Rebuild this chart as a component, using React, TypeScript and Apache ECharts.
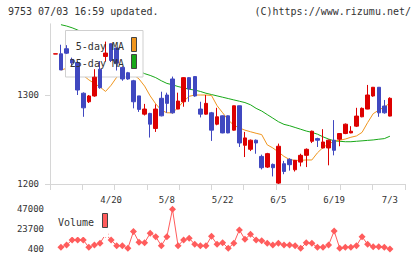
import React, { useEffect, useRef } from "react";
import * as echarts from "echarts";

const dates = [
  "4/6","4/7","4/8","4/9","4/10","4/13","4/14","4/15","4/16","4/17",
  "4/20","4/21","4/22","4/23","4/24","4/27","4/28","4/30","5/1","5/7",
  "5/8","5/11","5/12","5/13","5/14","5/15","5/18","5/19","5/20","5/21",
  "5/22","5/25","5/26","5/27","5/28","5/29","6/1","6/2","6/3","6/4",
  "6/5","6/8","6/9","6/10","6/11","6/12","6/15","6/16","6/17","6/18",
  "6/19","6/22","6/23","6/24","6/25","6/26","6/29","6/30","7/1","7/2",
  "7/3",
];

const opens = [
  1346, 1346.3, 1352, 1340, 1336.5, 1302, 1292.4, 1298.9, 1329, 1343.3,
  1357.6, 1352.8, 1331, 1325, 1316, 1299, 1278.5, 1279.3, 1262.4, 1296.3,
  1300, 1318, 1284.2, 1292.4, 1319.5, 1320.7, 1284.2, 1278.5, 1280, 1267.2,
  1276.6, 1276.6, 1260.5, 1287.9, 1243.5, 1239, 1249.2, 1231, 1219, 1222,
  1201, 1222.8, 1227.7, 1216, 1224.6, 1232.2, 1248, 1251, 1240.5, 1240.5,
  1249.2, 1250.3, 1256.7, 1257.4, 1265, 1275.5, 1284.2, 1298.9, 1308.7, 1287.6,
  1276.3,
];
const closes = [
  1346.3, 1328.2, 1347, 1336, 1305.6, 1285.6, 1298.9, 1320, 1308.2, 1347.1,
  1338.8, 1335.8, 1318, 1318, 1292.4, 1283.8, 1284.2, 1267.2, 1284.2, 1276.6,
  1290.6, 1280, 1293.2, 1319.5, 1306.8, 1298.9, 1278.5, 1290.6, 1260.5, 1275.5,
  1257.4, 1257.4, 1287.9, 1246.1, 1251.8, 1249.2, 1246.1, 1218.3, 1234.1, 1218.3,
  1242.4, 1214.1, 1221.7, 1226.6, 1232.2, 1239, 1259.3, 1249.2, 1247.2, 1249.2,
  1237.9, 1256.7, 1267.2, 1259.3, 1276.3, 1285, 1300, 1308.7, 1280, 1280,
  1296.3,
];
const lows = [
  1346, 1328, 1346, 1333, 1300, 1275.5, 1291, 1298, 1307, 1337.6,
  1337, 1327.5, 1316, 1317, 1285, 1281, 1277, 1252.2, 1258.5, 1276,
  1280, 1279, 1284, 1286.8, 1292.4, 1298, 1274.8, 1278, 1248.4, 1266,
  1257, 1257, 1260, 1241.6, 1230.3, 1237, 1234, 1216.4, 1218, 1208.5,
  1200, 1211, 1215, 1214, 1219.8, 1219, 1246, 1241.6, 1240, 1221,
  1232.2, 1242.4, 1256, 1257, 1264, 1275, 1284, 1298, 1275.5, 1279,
  1276,
];
const highs = [
  1346.3, 1356.5, 1356, 1342, 1338, 1303, 1300, 1329, 1338, 1360,
  1358, 1353, 1332, 1326, 1317, 1299, 1290, 1280, 1289.5, 1303.7,
  1302.6, 1320.7, 1302.6, 1320, 1320, 1321, 1292.4, 1300, 1281, 1285.6,
  1277, 1277, 1288, 1288, 1258.5, 1250, 1250, 1233, 1235, 1223,
  1245.4, 1226, 1229, 1227, 1234, 1240, 1260, 1252, 1261.6, 1250,
  1271.8, 1257, 1268, 1265, 1285.6, 1286, 1311.3, 1309, 1309, 1294.4,
  1297.4,
];

const ma5 = [
  null, 1328, 1330, 1331, 1328, 1322, 1317, 1313, 1309, 1304,
  1311, 1320, 1325, 1326, 1323, 1318, 1310, 1299, 1290, 1283,
  1280, 1280, 1286, 1293, 1298.5, 1300, 1300, 1300, 1299.5, 1288,
  1280, 1272, 1266, 1263, 1260.5, 1258.7, 1257, 1255.5, 1244, 1240.5,
  1236, 1231, 1227.5, 1226.5, 1226.6, 1227, 1227, 1235, 1241, 1245,
  1248, 1249.2, 1250.5, 1252.5, 1254, 1258, 1269, 1279, 1283, 1286.5,
  1291,
];
const ma25 = [
  null, 1379, 1377.5, 1375.5, 1373, 1370, 1367, 1363, 1359, 1355,
  1351, 1346, 1341, 1336, 1331, 1327, 1324, 1322, 1319.5, 1316,
  1313, 1311.5, 1309.5, 1308, 1306.5, 1305.5, 1304, 1302, 1300.5, 1299,
  1297.5, 1296, 1294.5, 1293, 1291.5, 1289, 1285, 1282, 1278, 1274,
  1270, 1267, 1265.5, 1263.5, 1261.5, 1259.5, 1258, 1256, 1253, 1250.5,
  1248.5, 1248, 1247.5, 1247.5, 1248, 1248.5, 1249, 1249.5, 1250.3, 1251,
  1253.7,
];

const volumes = [
  null, 2700, 5400, 11200, 11200, 11200, 2700, 5400, 7400, 18000,
  11200, 4600, 4600, 1600, 21000, 8600, 8100, 19000, 15100, 4600,
  15100, 47000, 4600, 11200, 13200, 6200, 4600, 4600, 15500, 6200,
  8100, 1600, 7400, 22900, 12000, 17900, 11200, 10400, 7400, 5400,
  7400, 5400, 5400, 4600, 1600, 8100, 7400, 2700, 2700, 5400,
  21700, 1600, 2700, 2700, 4600, 15100, 6200, 3400, 3400, 2700,
  800,
];

const priceTicks = [1200, 1300];
const volumeTicks = [400, 23700, 47000];

const FONT = "DejaVu Sans Mono";
const TXT = "#333";
const AXIS = "#d6d6d6";
const UP = "#dd0000";
const DOWN = "#4048c0";
const ORANGE = "#f0961e";
const GREEN = "#18a818";
const VOL = "#ff5c5c";

const plain = (v: number) => String(v);

export default function App() {
  const ref = useRef<HTMLDivElement>(null);
  useEffect(() => {
    if (!ref.current) return;
    const chart = echarts.init(ref.current, null, { renderer: "svg" });
    const plotLeft = 52.6;
    const plotWidth = 340.1;
    const candles = dates.map((_, i) => [opens[i], closes[i], lows[i], highs[i]]);
    chart.setOption({
      animation: false,
      backgroundColor: "#fff",
      textStyle: { fontFamily: FONT },
      grid: [
        { left: plotLeft, width: plotWidth, top: 23.8, height: 160.2 },
        { left: plotLeft, width: plotWidth, top: 209.3, height: 40 },
        { left: 50, width: 355, top: 23.8, height: 160.2 },
      ],
      xAxis: [
        {
          type: "category",
          gridIndex: 0,
          data: dates,
          boundaryGap: true,
          axisLine: { show: false },
          axisTick: { show: false },
          splitLine: { show: false },
          axisLabel: {
            interval: (i: number) => i > 0 && i % 10 === 0,
            fontSize: 9,
            color: TXT,
            fontFamily: FONT,
            margin: 11,
          },
        },
        {
          type: "category",
          gridIndex: 1,
          data: dates,
          boundaryGap: true,
          show: false,
        },
        {
          type: "value",
          gridIndex: 2,
          min: 0,
          max: 11,
          interval: 1,
          axisLine: { show: true, lineStyle: { color: AXIS, width: 1 } },
          axisTick: { show: true, length: 6, lineStyle: { color: AXIS, width: 1 } },
          axisLabel: { show: false },
          splitLine: { show: false },
        },
      ],
      yAxis: [
        {
          type: "value",
          gridIndex: 0,
          min: 1200,
          max: 1380,
          offset: plotLeft - 50,
          axisLine: { show: true, lineStyle: { color: AXIS, width: 1 } },
          axisTick: { show: true, length: 5, customValues: priceTicks, lineStyle: { color: AXIS } },
          axisLabel: {
            customValues: priceTicks,
            formatter: plain,
            fontSize: 9,
            color: TXT,
            fontFamily: FONT,
            margin: 11,
          },
          splitLine: { show: false },
        },
        {
          type: "value",
          gridIndex: 1,
          min: 400,
          max: 47000,
          interval: 23300,
          offset: plotLeft - 50,
          axisLine: { show: false },
          axisTick: { show: false },
          axisLabel: {
            customValues: volumeTicks,
            formatter: plain,
            fontSize: 9,
            color: TXT,
            fontFamily: FONT,
            margin: 6,
          },
          splitLine: { show: false },
        },
        { type: "value", gridIndex: 2, min: 0, max: 1, show: false },
      ],
      series: [
        {
          type: "line",
          name: "25-day MA",
          xAxisIndex: 0,
          yAxisIndex: 0,
          data: ma25,
          symbol: "none",
          lineStyle: { color: GREEN, width: 1 },
          z: 2,
        },
        {
          type: "line",
          name: "5-day MA",
          xAxisIndex: 0,
          yAxisIndex: 0,
          data: ma5,
          symbol: "none",
          lineStyle: { color: ORANGE, width: 1 },
          z: 2,
        },
        {
          type: "candlestick",
          xAxisIndex: 0,
          yAxisIndex: 0,
          data: candles,
          barWidth: 4,
          itemStyle: {
            color: UP,
            color0: DOWN,
            borderColor: UP,
            borderColor0: DOWN,
            borderWidth: 1,
          },
          z: 5,
        },
        {
          type: "line",
          name: "Volume",
          xAxisIndex: 1,
          yAxisIndex: 1,
          data: volumes,
          symbol: "diamond",
          symbolSize: 7,
          showSymbol: true,
          showAllSymbol: true,
          connectNulls: false,
          itemStyle: { color: VOL },
          lineStyle: { color: VOL, width: 1 },
          z: 2,
        },
      ],
      graphic: [
        {
          type: "text",
          left: 8,
          top: 6,
          z: 20,
          style: { text: "9753 07/03 16:59 updated.", fontSize: 10, fontFamily: FONT, fill: TXT },
        },
        {
          type: "text",
          right: 9,
          top: 6,
          z: 20,
          style: { text: "(C)https://www.rizumu.net/", fontSize: 10, fontFamily: FONT, fill: TXT },
        },
        {
          type: "rect",
          z: 3,
          shape: { x: 65.5, y: 30.5, width: 77.5, height: 46.5 },
          style: { fill: "#fff", stroke: "#cfcfcf", lineWidth: 1 },
        },
        {
          type: "text",
          z: 20,
          x: 124,
          y: 46,
          style: { text: "5-day MA", fontSize: 10, fontFamily: FONT, fill: TXT, align: "right", verticalAlign: "middle" },
        },
        {
          type: "text",
          z: 20,
          x: 124,
          y: 63,
          style: { text: "25-day MA", fontSize: 10, fontFamily: FONT, fill: TXT, align: "right", verticalAlign: "middle" },
        },
        {
          type: "rect",
          z: 20,
          shape: { x: 131.5, y: 37.5, width: 5, height: 14 },
          style: { fill: ORANGE, stroke: "#444", lineWidth: 1 },
        },
        {
          type: "rect",
          z: 20,
          shape: { x: 131.5, y: 54.5, width: 5, height: 14 },
          style: { fill: GREEN, stroke: "#444", lineWidth: 1 },
        },
        {
          type: "rect",
          z: 10,
          shape: { x: 54, y: 205, width: 54.5, height: 32 },
          style: { fill: "#fff", stroke: null },
        },
        {
          type: "text",
          z: 20,
          x: 58,
          y: 222,
          style: { text: "Volume", fontSize: 10, fontFamily: FONT, fill: TXT, align: "left", verticalAlign: "middle" },
        },
        {
          type: "rect",
          z: 20,
          shape: { x: 102.5, y: 213.5, width: 5, height: 14 },
          style: { fill: VOL, stroke: "#444", lineWidth: 1 },
        },
      ],
    });
    return () => chart.dispose();
  }, []);
  return (
    <div
      ref={ref}
      style={{ position: "fixed", left: 0, top: 0, width: 420, height: 259, background: "#fff" }}
    />
  );
}
